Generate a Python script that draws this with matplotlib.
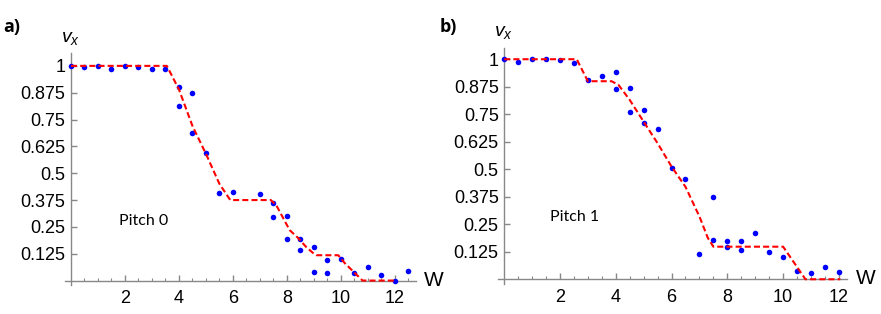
import numpy as np
import matplotlib
matplotlib.use('Agg')
import matplotlib.pyplot as plt
from matplotlib.ticker import FixedLocator

plt.rcParams['font.family'] = ['Liberation Sans', 'DejaVu Sans']
plt.rcParams['mathtext.fontset'] = 'custom'
plt.rcParams['mathtext.it'] = 'Liberation Sans:italic'
plt.rcParams['mathtext.rm'] = 'Liberation Sans'

# simulated points, pitch 0
w_a = [0, 0.5, 1.0, 1.5, 2.0, 2.5, 3.0, 3.5, 4.0, 4.0, 4.5, 4.5, 5.0, 5.5, 6.0, 7.0,
       7.5, 7.5, 8.0, 8.0, 8.5, 8.5, 9.0, 9.0, 9.5, 9.5, 10.0, 10.5, 11.0, 11.5, 12.0, 12.5]
v_a = [1.0, 0.994, 1.0, 0.987, 1.0, 0.994, 0.985, 0.985, 0.90, 0.812, 0.873, 0.686, 0.592, 0.406, 0.411, 0.402,
       0.363, 0.297, 0.30, 0.193, 0.193, 0.142, 0.156, 0.038, 0.097, 0.034, 0.102, 0.034, 0.063, 0.024, 0.0, 0.043]
# model curve, pitch 0
fit_w_a = [0, 3.55, 4.0, 4.5, 5.0, 5.5, 5.9, 7.4, 7.6, 7.8, 8.1, 8.4, 8.7, 8.95, 9.1, 9.9, 10.15, 10.8, 12.05]
fit_v_a = [1, 1, 0.89, 0.72, 0.59, 0.45, 0.375, 0.375, 0.352, 0.305, 0.235, 0.2, 0.158, 0.13, 0.118, 0.118, 0.08, 0, 0]

# simulated points, pitch 1
w_b = [0, 0.5, 1.0, 1.5, 2.0, 2.5, 3.0, 3.5, 4.0, 4.0, 4.5, 4.5, 5.0, 5.0, 5.5, 6.0,
       6.5, 7.0, 7.5, 7.5, 8.0, 8.0, 8.5, 8.5, 9.0, 9.5, 10.0, 10.5, 11.0, 11.5, 12.0]
v_b = [1.0, 0.986, 1.0, 1.0, 0.995, 0.982, 0.906, 0.923, 0.944, 0.863, 0.87, 0.76, 0.771, 0.712, 0.683, 0.507,
       0.457, 0.115, 0.374, 0.18, 0.176, 0.148, 0.176, 0.132, 0.209, 0.125, 0.10, 0.036, 0.029, 0.057, 0.033]
# model curve, pitch 1
fit_w_b = [0, 2.6, 3.0, 3.85, 4.1, 4.5, 5.0, 5.5, 6.0, 6.5, 7.0, 7.3, 7.5, 10.0, 10.8, 12.05]
fit_v_b = [1, 1, 0.9, 0.9, 0.883, 0.815, 0.716, 0.618, 0.512, 0.42, 0.285, 0.188, 0.148, 0.148, 0, 0]

y_ticks = [0.125, 0.25, 0.375, 0.5, 0.625, 0.75, 0.875, 1.0]
y_labels = ['0.125', '0.25', '0.375', '0.5', '0.625', '0.75', '0.875', '1']

W, H = 881, 314
fig = plt.figure(figsize=(W / 100, H / 100), dpi=100)

def px_axes(l, t, r, b):
    return fig.add_axes([l / W, 1 - b / H, (r - l) / W, (b - t) / H])

def draw_panel(ax, w, v, fw, fv, xlim, ylim, xmax_tick):
    ax.plot(w, v, 'o', color=(0, 0, 1), ms=4, mec='none', clip_on=False, zorder=3)
    ax.plot(fw, fv, color=(1, 0, 0), lw=1.5, linestyle=(0, (2.9, 1.5)), clip_on=False, zorder=4)
    ax.set_xlim(*xlim)
    ax.set_ylim(*ylim)
    for s in ['top', 'right']:
        ax.spines[s].set_visible(False)
    for s in ['left', 'bottom']:
        ax.spines[s].set_position(('data', 0))
        ax.spines[s].set_color('#888888')
        ax.spines[s].set_linewidth(1.0)
    ax.spines['left'].set_bounds(ylim[0] - 0.005, ylim[1])
    ax.xaxis.set_major_locator(FixedLocator(np.arange(2, xmax_tick + 0.1, 2)))
    ax.xaxis.set_minor_locator(FixedLocator(np.arange(0.5, xmax_tick + 0.6, 0.5)))
    ax.set_yticks(y_ticks)
    ax.set_yticklabels(y_labels)
    ax.tick_params(axis='x', which='major', direction='in', length=4, width=1,
                   color='#888888', labelsize=13, pad=7)
    ax.tick_params(axis='x', which='minor', direction='in', length=2.5, width=0.8,
                   color='#888888')
    ax.tick_params(axis='y', which='major', direction='in', length=4, width=1,
                   color='#888888', labelsize=13, pad=4)
    ax.patch.set_alpha(0)

ax1 = px_axes(65, 53, 416, 284)
draw_panel(ax1, w_a, v_a, fit_w_a, fit_v_a, (-0.222, 12.78), (-0.016, 1.06), 12.5)
ax2 = px_axes(498, 48, 847, 283)
draw_panel(ax2, w_b, v_b, fit_w_b, fit_v_b, (-0.222, 12.29), (-0.017, 1.051), 12)

def ftext(x, y, s, **kw):
    fig.text(x / W, 1 - y / H, s, **kw)

ftext(3, 27, 'a)', fontsize=13, fontweight='bold', va='center', family=['Open Sans', 'DejaVu Sans'])
ftext(440, 27, 'b)', fontsize=13, fontweight='bold', va='center', family=['Open Sans', 'DejaVu Sans'])
ftext(61, 42, r'$v_{x}$', fontsize=14, va='baseline')
ftext(494, 36, r'$v_{x}$', fontsize=14, va='baseline')
ftext(424, 280, 'W', fontsize=15, va='center')
ftext(856, 279, 'W', fontsize=15, va='center')
ftext(119, 221, 'Pitch 0', fontsize=11.5, va='center', family=['Lato', 'DejaVu Sans'])
ftext(550, 217, 'Pitch 1', fontsize=11.5, va='center', family=['Lato', 'DejaVu Sans'])

fig.savefig('out.png', dpi=100)
